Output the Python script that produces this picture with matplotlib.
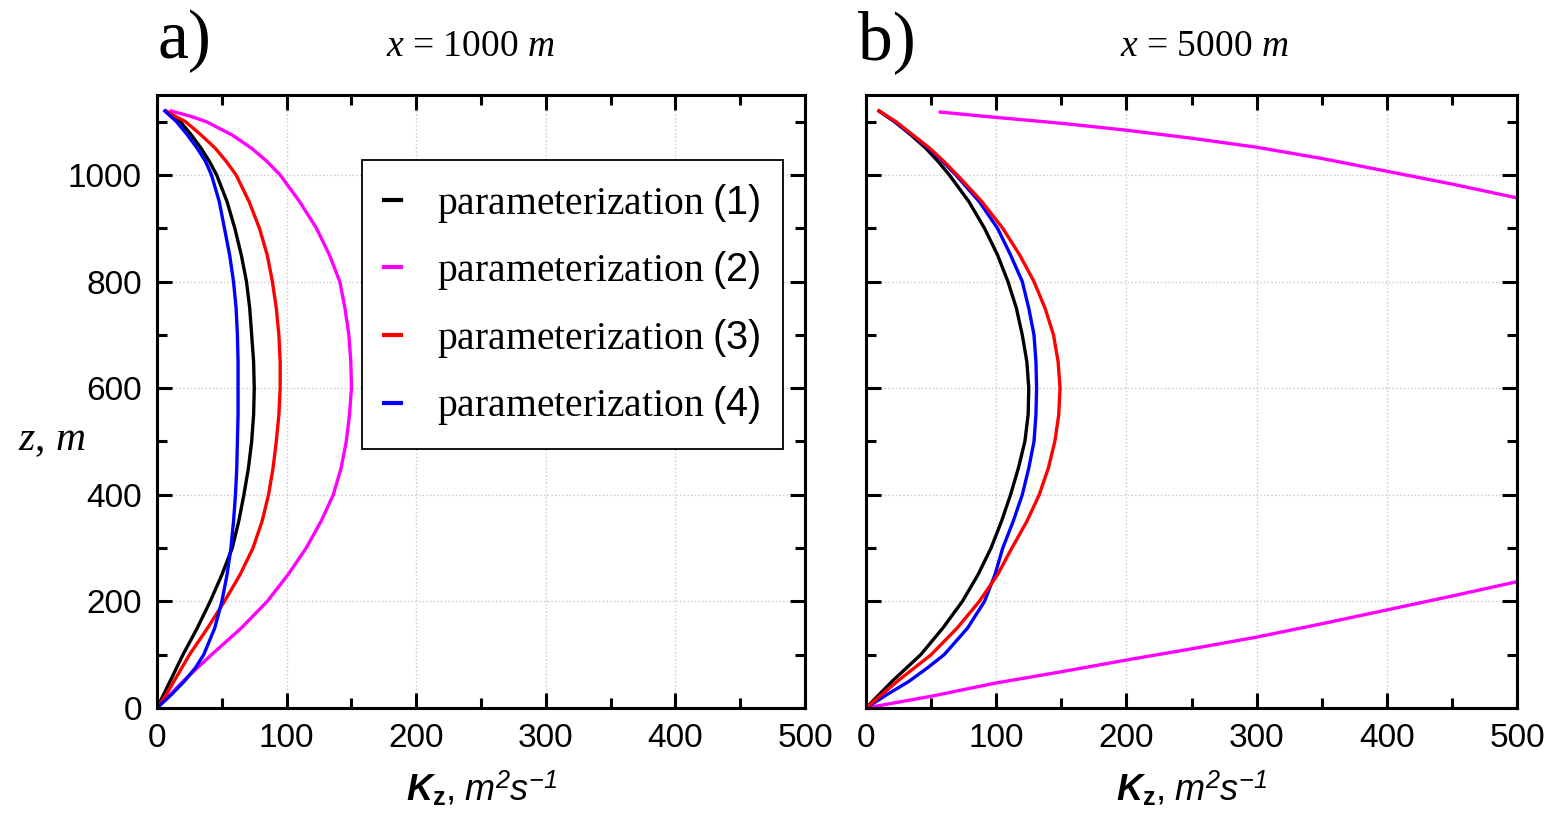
import numpy as np
import matplotlib
matplotlib.use('Agg')
import matplotlib.pyplot as plt
from matplotlib.ticker import MultipleLocator

# mathtext: serif roman/italic, sans for numbers and the K label
plt.rcParams['mathtext.fontset'] = 'custom'
plt.rcParams['mathtext.rm'] = 'Liberation Serif'
plt.rcParams['mathtext.it'] = 'Liberation Serif:italic'
plt.rcParams['mathtext.sf'] = 'Liberation Sans'
plt.rcParams['mathtext.bf'] = 'Liberation Sans:bold'
plt.rcParams['mathtext.bfit'] = 'Liberation Sans:bold:italic'
plt.rcParams['mathtext.tt'] = 'Liberation Sans:italic'   # used as sans italic
plt.rcParams['font.family'] = ['Liberation Sans', 'DejaVu Sans']

# heights, m
z = [0, 25, 50, 75, 100, 150, 200, 250, 300, 350, 400, 450, 500, 550, 600, 650,
     700, 750, 800, 850, 900, 950, 1000, 1025, 1050, 1075, 1100, 1110, 1120]

# a) x = 1000 m, Kz in m2/s
k1_a = [0, 5, 10, 15, 20, 31, 41, 50, 58, 63, 67, 70.5, 73, 74.5, 75, 74.5,
        73, 71.5, 69, 65, 60, 54, 46, 40.5, 34, 26.5, 18, 13, 7]
k2_a = [0, 10, 20, 31, 42, 65, 85, 101, 115, 126.5, 136, 142, 146, 148.5, 150, 149.5,
        148, 145, 141, 133, 123, 110, 95, 85, 73, 58, 38, 26, 11]
k3_a = [0, 7, 13, 19, 25, 39, 52, 64, 74, 81, 86, 89.5, 92, 94, 95, 95,
        94, 92, 89, 85, 79, 71, 61, 53.5, 45, 34, 22, 14, 7]
k4_a = [0, 11, 21, 29.5, 36, 44.5, 50, 54, 57, 59, 60.5, 61.5, 62, 62.5, 62.5, 62.5,
        62, 61, 59, 56, 52, 48, 42, 37.5, 31, 23.5, 15, 10.5, 6]

# b) x = 5000 m
k1_b = [0, 10, 20, 31, 42, 59, 74, 86, 96, 104, 111, 117, 122, 124.5, 125, 123.5,
        120, 115.5, 109, 101, 91, 79, 64, 55.5, 46, 34.5, 22, 16, 10]
k3_b = [0, 12, 24, 37, 50, 70, 87, 101, 112, 123.5, 133, 140, 145, 148, 149, 147.5,
        144, 137.5, 129, 118, 105, 89, 70, 60, 49, 36, 23, 16.5, 10]
k4_b = [0, 16, 33, 47, 60, 78, 91, 99, 105, 113, 120, 125, 129, 130.5, 131, 130.5,
        129, 125, 120, 111, 101, 87, 69, 59, 48, 35.5, 22, 16, 10]
# param (2) leaves the plot (Kz > 500) in the middle
k2_b = [0, 50, 100, 150, 200, 250, 300, 350, 400, 450, 500, np.nan,
        500, 450, 400, 350, 300, 250, 200, 150, 100, 57]
z2_b = [0, 22, 47, 68, 90, 111, 133, 158, 184, 210, 237, np.nan,
        957, 983, 1007, 1031, 1052, 1069, 1084, 1097, 1108, 1118]

labels = [r'$\mathrm{parameterization}\ \mathsf{(%d)}$' % i for i in (1, 2, 3, 4)]
colors = ['black', '#ff00ff', '#ff0000', '#0000ff']

fig = plt.figure(figsize=(15.52, 8.27), dpi=100)
ax1 = fig.add_axes([0.1012, 0.1439, 0.4175, 0.7412])
ax2 = fig.add_axes([0.558, 0.1439, 0.4195, 0.7412])

lw = 2.4
for k, c, lab in zip([k1_a, k2_a, k3_a, k4_a], colors, labels):
    ax1.plot(k, z, color=c, lw=lw, label=lab)

ax2.plot(k1_b, z, color=colors[0], lw=lw)
ax2.plot(k2_b, z2_b, color=colors[1], lw=lw)
ax2.plot(k4_b, z, color=colors[3], lw=lw)
ax2.plot(k3_b, z, color=colors[2], lw=lw)

xlab = r'$\mathbfit{K}_{\mathbf{z}}\mathsf{,}\ \mathtt{m}^{\mathtt{2}}\mathtt{s}^{\mathtt{-1}}$'
for ax in (ax1, ax2):
    ax.set_xlim(0, 500)
    ax.set_ylim(0, 1150)
    ax.xaxis.set_major_locator(MultipleLocator(100))
    ax.xaxis.set_minor_locator(MultipleLocator(50))
    ax.yaxis.set_major_locator(MultipleLocator(200))
    ax.yaxis.set_minor_locator(MultipleLocator(100))
    ax.tick_params(which='both', direction='in', top=True, right=True, width=2.2,
                   labelsize=24, pad=11)
    ax.tick_params(which='major', length=11)
    ax.tick_params(which='minor', length=7)
    ax.grid(True, which='major', color='#c8c8c8', linestyle=':', linewidth=1)
    ax.set_axisbelow(True)
    for s in ax.spines.values():
        s.set_linewidth(2.2)
    ax.set_xlabel(xlab, fontsize=26, labelpad=11)

ax2.tick_params(labelleft=False)

ax1.text(-0.162, 0.437, r'$z$, $m$', transform=ax1.transAxes, fontsize=30,
         family='Liberation Serif', ha='center', va='center')

ax1.text(0.483, 1.078, r'$x$ = 1000 $m$', transform=ax1.transAxes, fontsize=27,
         family='Liberation Serif', ha='center', va='center')
ax2.text(0.52, 1.078, r'$x$ = 5000 $m$', transform=ax2.transAxes, fontsize=27,
         family='Liberation Serif', ha='center', va='center')

ax1.text(0.0, 1.087, 'a)', transform=ax1.transAxes, fontsize=50,
         family='Liberation Serif', ha='left', va='center')
ax2.text(-0.012, 1.087, 'b)', transform=ax2.transAxes, fontsize=50,
         family='Liberation Serif', ha='left', va='center')

leg = ax1.legend(loc='upper left', bbox_to_anchor=(0.316, 0.894), fancybox=False,
                 edgecolor='black', framealpha=1, handlelength=0.45, handletextpad=0.9,
                 labelspacing=0.62, borderpad=0.55, borderaxespad=0, prop={'size': 28.5})
leg.get_frame().set_linewidth(1.3)
for h in leg.get_lines():
    h.set_linewidth(3)

plt.savefig('out.png', dpi=100)
